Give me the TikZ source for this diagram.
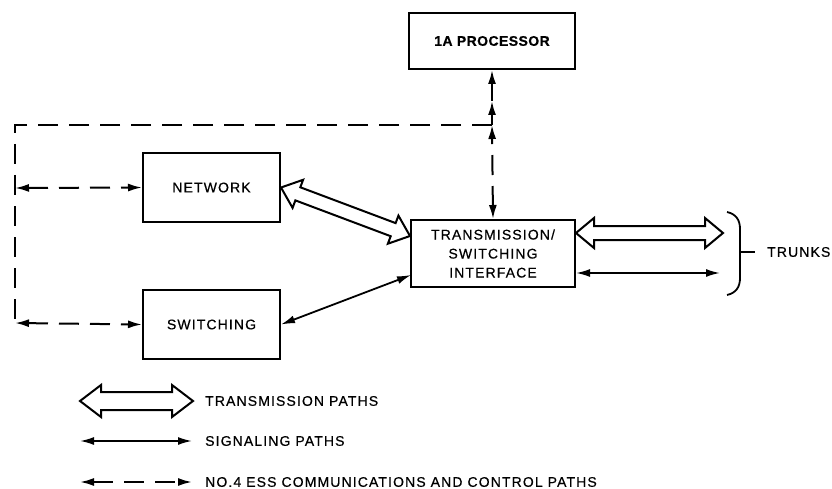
\documentclass[tikz,border=0pt]{standalone}
\usepackage{fontspec}
\setmainfont{Liberation Sans}[LetterSpace=8,FakeBold=0.5]
\usetikzlibrary{calc,arrows.meta}
\newcommand\hollowarr[5]{%
  \draw[harrow] (#1) -- ($(#1)!#5!(#2)!#4!90:(#2)$) -- ($(#1)!#5!(#2)!#3!90:(#2)$)
    -- ($(#2)!#5!(#1)!#3!-90:(#1)$) -- ($(#2)!#5!(#1)!#4!-90:(#1)$) -- (#2)
    -- ($(#2)!#5!(#1)!#4!90:(#1)$) -- ($(#2)!#5!(#1)!#3!90:(#1)$)
    -- ($(#1)!#5!(#2)!#3!-90:(#2)$) -- ($(#1)!#5!(#2)!#4!-90:(#2)$) -- cycle;}
\begin{document}
\begin{tikzpicture}[x=1pt,y=-1pt,
  font=\fontsize{14}{19}\selectfont,
  box/.style={draw, line width=2pt, inner sep=0pt, align=center},
  tp/.tip={Latex[length=14pt,width=8pt]},
  sig/.style={line width=1.8pt, tp-tp},
  ctl/.style={line width=2pt, dash pattern=on 20pt off 11pt},
  harrow/.style={draw, line width=2pt, line join=miter, fill=white}]
\useasboundingbox (0,0) rectangle (832,489);

% boxes
\node[box, minimum width=166pt, minimum height=56pt, font=\fontsize{14}{19}\selectfont\bfseries\addfontfeature{LetterSpace=3}] (proc) at (492,41) {1A PROCESSOR};
\node[box, minimum width=164pt, minimum height=67pt] (tsi) at (493,253.5) {TRANSMISSION/\\SWITCHING\\INTERFACE};
\node[box, minimum width=137pt, minimum height=69pt] (net) at (211.5,187.5) {NETWORK};
\node[box, minimum width=137pt, minimum height=69pt] (sw) at (211.5,324.5) {SWITCHING};

% control paths
\coordinate (J) at (492,125);
\coordinate (M) at (492,101);
\coordinate (LT) at (15,125);
\coordinate (LN) at (15,188);
\coordinate (LB) at (15,323);
\draw[ctl] (J) -- (LT) -- (LB);
\draw[ctl, tp-tp] (LN) -- (net.west);
\draw[ctl, tp-tp] (LB) -- (sw.west);
\draw[ctl, -tp] (J) -- (M);
\draw[ctl, -tp] (M) -- (proc.south);
\draw[ctl, tp-tp] (tsi.north) -- (J);

% transmission paths
\coordinate (na) at (281,187.5);
\coordinate (ta) at (410,236);
\hollowarr{na}{ta}{7pt}{15pt}{18pt}
\coordinate (tb) at (576,233);
\coordinate (kb) at (723,233);
\hollowarr{tb}{kb}{7pt}{15pt}{18pt}

% signaling paths
\coordinate (ts) at (411,275);
\draw[sig] (sw.east) -- (ts);
\coordinate (tt) at (576,273);
\coordinate (kt) at (720,273);
\draw[sig] (tt) -- (kt);

% trunks brace
\coordinate (br1) at (727,212);
\coordinate (br2) at (727,295);
\coordinate (brm) at (740,252);
\coordinate (brt) at (755,252);
\draw[line width=1.8pt] (br1) .. controls (736,214) and (740,220) .. (740,229) -- (740,278) .. controls (740,287) and (736,293) .. (br2);
\draw[line width=1.5pt] (brm) -- (brt);
\node[anchor=west, inner sep=0pt] (trunks) at (767,252) {TRUNKS};

% legend
\coordinate (l1a) at (80,401);
\coordinate (l1b) at (193,401);
\hollowarr{l1a}{l1b}{9pt}{16pt}{21pt}
\node[anchor=west, inner sep=0pt] (t1) at (205,401) {TRANSMISSION PATHS};
\coordinate (l2a) at (80,441);
\coordinate (l2b) at (192,441);
\draw[sig] (l2a) -- (l2b);
\node[anchor=west, inner sep=0pt] (t2) at (205,441) {SIGNALING PATHS};
\coordinate (l3a) at (80,482);
\coordinate (l3b) at (192,482);
\draw[ctl, tp-tp] (l3a) -- (l3b);
\node[anchor=west, inner sep=0pt] (t3) at (205,482) {NO.4 ESS COMMUNICATIONS AND CONTROL PATHS};
\end{tikzpicture}
\end{document}
